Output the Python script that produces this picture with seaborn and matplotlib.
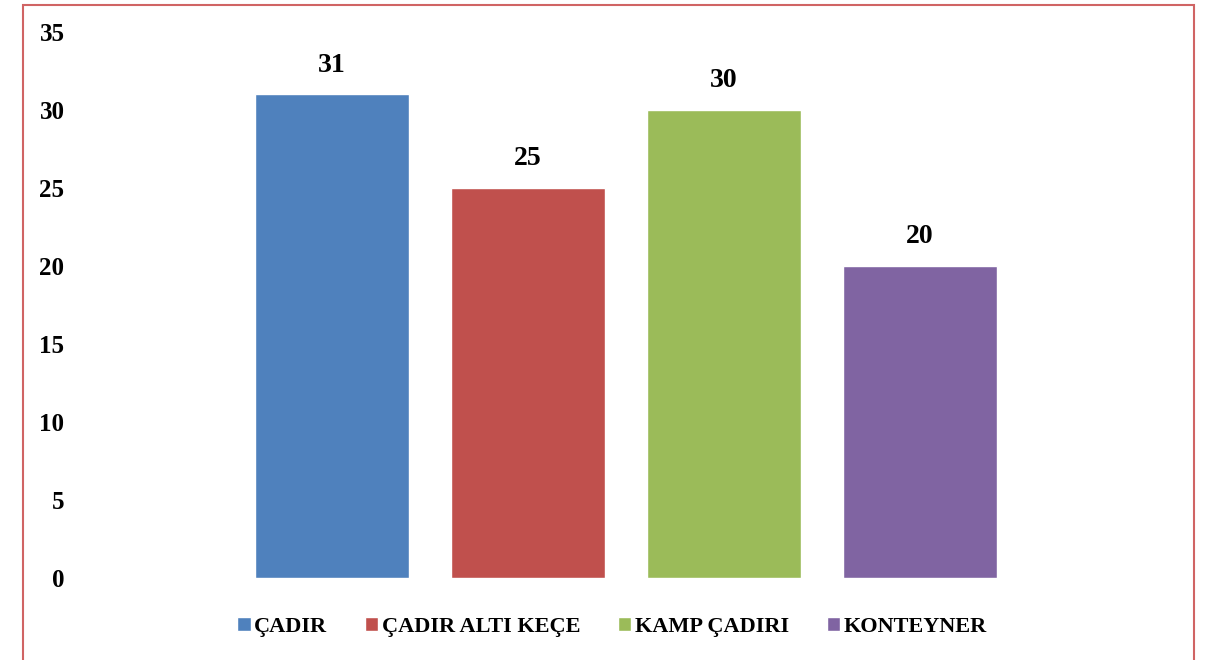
import pandas as pd
import seaborn as sns
import matplotlib.pyplot as plt
from matplotlib.patches import Rectangle, Patch

# chart data
categories = ['ÇADIR', 'ÇADIR ALTI KEÇE', 'KAMP ÇADIRI', 'KONTEYNER']
counts = [31, 25, 30, 20]
colors = ['#4F81BD', '#C0504D', '#9BBB59', '#8064A2']

df = pd.DataFrame({'category': categories, 'count': counts})

sns.set_style('white')
plt.rcParams['font.family'] = ['Liberation Serif', 'DejaVu Serif']
plt.rcParams['font.weight'] = 'bold'
plt.rcParams['text.color'] = 'black'
plt.rcParams['ytick.color'] = 'black'

fig = plt.figure(figsize=(12.25, 6.6), dpi=100)
ax = fig.add_axes([70 / 1225, 1 - 578 / 660, (1017 - 70) / 1225, (578 - 32) / 660])

sns.barplot(data=df, x='category', y='count', hue='category', palette=colors,
            width=0.79, saturation=1, legend=False, ax=ax)

for i, v in enumerate(counts):
    ax.annotate(str(v), (i, v), xytext=(0, 12), textcoords='offset points',
                ha='center', va='bottom', fontsize=20, fontweight='bold', color='black')

ax.set_ylim(0, 35)
ax.set_yticks(range(0, 36, 5))
ax.set_xlim((70 - 332) / 196, (1017 - 332) / 196)
ax.set_xticks([])
ax.set_xlabel('')
ax.set_ylabel('')
ax.tick_params(axis='y', length=0, pad=4, labelsize=18, labelcolor='black')
for lbl in ax.get_yticklabels():
    lbl.set_fontweight('bold')
sns.despine(ax=ax, left=True, bottom=True)

handles = [Patch(facecolor=c, label=n) for c, n in zip(colors, categories)]
leg = fig.legend(handles=handles, loc='center', bbox_to_anchor=(612 / 1225, 1 - 627 / 660),
                 ncol=4, frameon=False, handlelength=0.6, handleheight=0.6,
                 handletextpad=0.15, columnspacing=1.7,
                 prop={'size': 16, 'weight': 'bold'})
for t in leg.get_texts():
    t.set_color('black')

# outer chart border
fig.patches.append(Rectangle((23 / 1225, -0.05), (1194 - 23) / 1225, 1.05 - 5 / 660,
                             transform=fig.transFigure, fill=False,
                             edgecolor='#D06464', linewidth=1.5))

fig.savefig('out.png', dpi=100)
